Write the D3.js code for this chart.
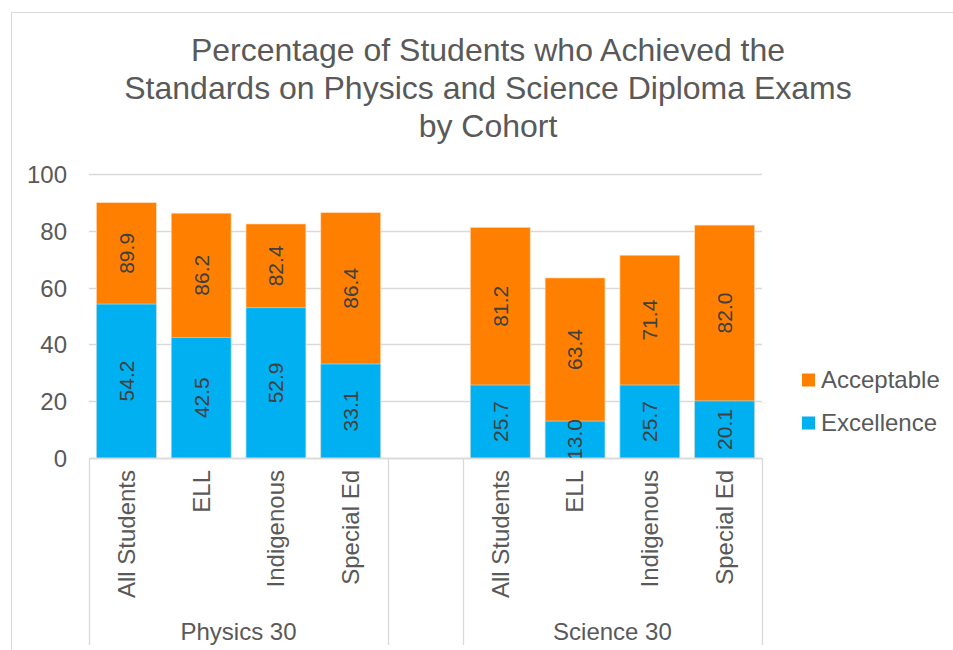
<!DOCTYPE html>
<html><head><meta charset="utf-8">
<script src="https://cdn.jsdelivr.net/npm/d3@7"></script>
<style>
html,body{margin:0;padding:0;background:#fff;}
text{font-family:"Liberation Sans",Arial,sans-serif;}
</style></head>
<body><svg id="c" width="953" height="650"></svg>
<script>
const titleLines = ["Percentage of Students who Achieved the","Standards on Physics and Science Diploma Exams","by Cohort"];
const groups = ["Physics 30","Science 30"];
const cohorts = ["All Students","ELL","Indigenous","Special Ed"];
const excellence = {"Physics 30":[54.2,42.5,52.9,33.1],"Science 30":[25.7,13.0,25.7,20.1]};
const acceptable = {"Physics 30":[89.9,86.2,82.4,86.4],"Science 30":[81.2,63.4,71.4,82.0]};
const yTicks = [0,20,40,60,80,100];
const seriesNames = ["Acceptable","Excellence"];
const colors = {"Acceptable":"#FF8000","Excellence":"#00B0F0"};

const svg = d3.select("#c");
const W=953,H=650;
const pLeft=89,pRight=762,pTop=174,pBottom=458;

// chart border
svg.append("rect").attr("x",11.5).attr("y",12.5).attr("width",W).attr("height",H).attr("fill","none").attr("stroke","#D9D9D9").attr("stroke-width",1);

// title
svg.append("text").attr("x",488).attr("text-anchor","middle").attr("fill","#595959").attr("font-size",32)
  .selectAll("tspan").data(titleLines).join("tspan").attr("x",488).attr("y",(d,i)=>61+i*38).text(d=>d);

// slots
const slots=[];
groups.forEach((g,gi)=>{
  cohorts.forEach((c,ci)=>slots.push({key:g+"|"+c,group:g,cohort:c,exc:excellence[g][ci],acc:acceptable[g][ci]}));
  if(gi<groups.length-1) slots.push({key:"gap"+gi,gap:true});
});
const x=d3.scaleBand().domain(slots.map(s=>s.key)).range([pLeft,pRight]).paddingInner(0.2).paddingOuter(0.1);
const y=d3.scaleLinear().domain([0,100]).range([pBottom,pTop]);

// gridlines
svg.append("g").selectAll("line").data(yTicks).join("line")
  .attr("x1",pLeft).attr("x2",pRight).attr("y1",d=>Math.round(y(d))+0.5).attr("y2",d=>Math.round(y(d))+0.5)
  .attr("stroke","#D9D9D9").attr("stroke-width",1.3);

// y axis labels
const yAx=svg.append("g").attr("transform",`translate(${pLeft-22},0)`)
  .call(d3.axisLeft(y).tickValues(yTicks).tickSize(0).tickPadding(0));
yAx.select(".domain").remove();
yAx.selectAll("text").attr("font-size",24).attr("fill","#595959").attr("font-family","Liberation Sans, Arial, sans-serif").attr("dy","0.35em");

const bars=slots.filter(s=>!s.gap);
svg.append("g").selectAll("rect").data(bars).join("rect")
  .attr("x",d=>x(d.key)).attr("width",x.bandwidth())
  .attr("y",d=>y(d.acc)).attr("height",d=>y(0)-y(d.acc))
  .attr("fill",colors.Acceptable).attr("stroke","#FFD9B3").attr("stroke-width",0.6);
svg.append("g").selectAll("rect").data(bars).join("rect")
  .attr("x",d=>x(d.key)).attr("width",x.bandwidth())
  .attr("y",d=>y(d.exc)).attr("height",d=>y(0)-y(d.exc))
  .attr("fill",colors.Excellence).attr("stroke","#B3E7FA").attr("stroke-width",0.6);

// value labels
const lab=svg.append("g");
bars.forEach(d=>{
  const cx=x(d.key)+x.bandwidth()/2;
  [[d.exc,(0+d.exc)/2],[d.acc,(d.exc+d.acc)/2]].forEach(([v,m])=>{
    lab.append("text").attr("transform",`translate(${cx},${y(m)}) rotate(-90)`)
      .attr("text-anchor","middle").attr("dy","0.35em").attr("font-size",21).attr("fill","#404040").text(v.toFixed(1));
  });
});

// category axis line
svg.append("line").attr("x1",pLeft).attr("x2",pRight).attr("y1",pBottom+0.5).attr("y2",pBottom+0.5).attr("stroke","#D9D9D9").attr("stroke-width",1.3);
// separators
const seps=[pLeft];
groups.forEach((g)=>{
  const first=x(g+"|"+cohorts[0])-x.step()*x.paddingInner()/2;
  const last=x(g+"|"+cohorts[cohorts.length-1])+x.bandwidth()+x.step()*x.paddingInner()/2;
  seps.push(first,last);
});
svg.append("g").selectAll("line").data([...new Set(seps.map(v=>Math.round(v)))]).join("line")
  .attr("x1",d=>d+0.5).attr("x2",d=>d+0.5).attr("y1",pBottom).attr("y2",645)
  .attr("stroke","#D9D9D9").attr("stroke-width",1.3);

// category labels
const xAx=svg.append("g").attr("transform",`translate(0,${pBottom})`)
  .call(d3.axisBottom(x).tickValues(bars.map(b=>b.key)).tickFormat(k=>k.split("|")[1]).tickSize(0));
xAx.select(".domain").remove();
xAx.selectAll("text").attr("font-size",24).attr("fill","#595959").attr("font-family","Liberation Sans, Arial, sans-serif")
  .attr("text-anchor","end").attr("transform","rotate(-90)").attr("x",-12).attr("y",0).attr("dy","0.35em");

// group labels
svg.append("g").selectAll("text").data(groups).join("text")
  .attr("x",g=>{const a=x(g+"|"+cohorts[0]), b=x(g+"|"+cohorts[cohorts.length-1])+x.bandwidth(); return (a+b)/2;})
  .attr("y",640).attr("text-anchor","middle").attr("font-size",24).attr("fill","#595959").text(g=>g);

// legend
const lg=svg.append("g").selectAll("g").data(seriesNames).join("g")
  .attr("transform",(d,i)=>`translate(802,${380+i*43})`);
lg.append("rect").attr("x",0).attr("y",-6.5).attr("width",13).attr("height",13).attr("fill",d=>colors[d]);
lg.append("text").attr("x",19).attr("dy","0.35em").attr("font-size",24).attr("fill","#595959").text(d=>d);
</script></body></html>
